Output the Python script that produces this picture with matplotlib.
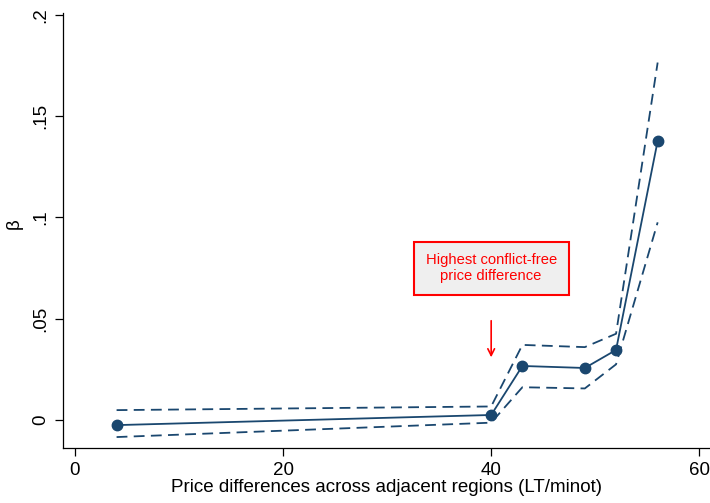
import matplotlib.pyplot as plt

plt.rcParams['font.family'] = ['Liberation Sans', 'DejaVu Sans']

# estimates by price-difference threshold
price_diff = [4, 40, 43, 49, 52, 56]
beta = [-0.0025, 0.0025, 0.0267, 0.0257, 0.0346, 0.1378]
ci_upper = [0.0049, 0.0067, 0.0371, 0.0360, 0.0426, 0.1765]
ci_lower = [-0.0084, -0.0013, 0.0162, 0.0156, 0.0275, 0.0976]

yticks = [0, 0.05, 0.1, 0.15, 0.2]
yticklabels = ['0', '.05', '.1', '.15', '.2']
xticks = [0, 20, 40, 60]

navy = '#1a476f'

fig = plt.figure(figsize=(7.1, 5.03), dpi=100)
ax = fig.add_axes([63/710, 1 - 448/503, (710 - 63)/710, (448 - 12.7)/503])

ax.plot(price_diff, beta, color=navy, lw=1.3, marker='o', ms=7.5, zorder=3)
ax.plot(price_diff, ci_upper, color=navy, lw=1.3, ls=(0, (6, 3.5)))
ax.plot(price_diff, ci_lower, color=navy, lw=1.3, ls=(0, (6, 3.5)))

ax.set_xlim(-1.15, 61.03)
ax.set_ylim(-0.0138, 0.2011)
ax.set_xticks(xticks)
ax.set_xticklabels([str(x) for x in xticks])
ax.set_yticks(yticks)
ax.set_yticklabels(yticklabels, rotation=90, va='center')
ax.tick_params(labelsize=13.5, length=6, width=0.9, colors='black', pad=4)
for s in ['top', 'right']:
    ax.spines[s].set_visible(False)
for s in ['left', 'bottom']:
    ax.spines[s].set_linewidth(0.9)

ax.set_xlabel('Price differences across adjacent regions (LT/minot)', fontsize=13.5, labelpad=0)
ax.set_ylabel('β', fontsize=13.5)
ax.yaxis.set_label_coords(-0.062, 0.515)

ax.text(40, 0.075, 'Highest conflict-free\nprice difference', color='red', fontsize=10.6,
        ha='center', va='center', linespacing=1.15,
        bbox=dict(boxstyle='square,pad=0.8', fc='#efefef', ec='red', lw=1.5))
ax.annotate('', xy=(40, 0.0296), xytext=(40, 0.0504),
            arrowprops=dict(arrowstyle='->', color='red', lw=1.2, mutation_scale=12))

fig.savefig('out.png', dpi=100)
